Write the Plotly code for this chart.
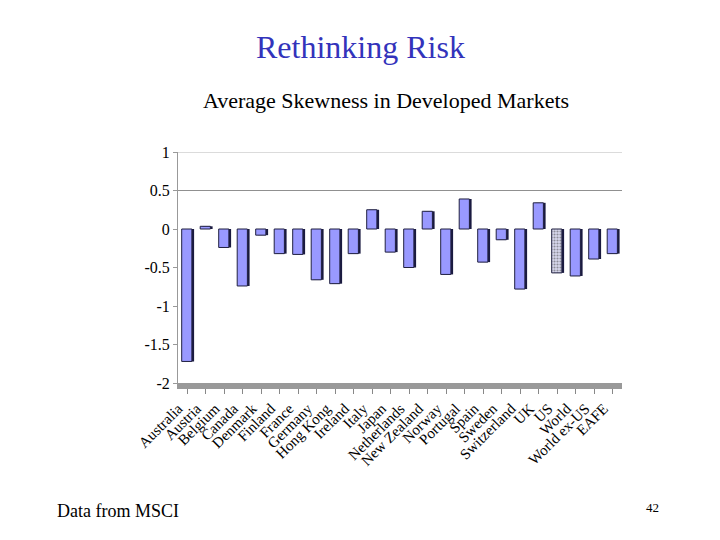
import plotly.graph_objects as go

markets = ['Australia', 'Austria', 'Belgium', 'Canada', 'Denmark', 'Finland', 'France',
           'Germany', 'Hong Kong', 'Ireland', 'Italy', 'Japan', 'Netherlands', 'New Zealand',
           'Norway', 'Portugal', 'Spain', 'Sweden', 'Switzerland', 'UK', 'US', 'World',
           'World ex-US', 'EAFE']
skewness = [-1.72, 0.035, -0.24, -0.74, -0.08, -0.32, -0.33, -0.66, -0.71, -0.32, 0.25, -0.30,
            -0.50, 0.23, -0.59, 0.39, -0.43, -0.14, -0.78, 0.34, -0.57, -0.61, -0.39, -0.32]
y_ticks = [1, 0.5, 0, -0.5, -1, -1.5, -2]

serif = 'Times New Roman, Liberation Serif, DejaVu Serif, serif'

# the page adds an 8px body margin, so aim everything 8px up/left
OFF = 8
FW, FH = 720, 540
# plot area in page pixels (left, right, top, bottom)
L, R, T, B = 178 - OFF, 622 - OFF, 152 - OFF, 383 - OFF
W, H = R - L, B - T


def pos(x, y):
    # page pixel -> paper coords
    return (x - OFF - L) / W, (B - (y - OFF)) / H


# US is drawn with a dotted fill like the original
patterns = ['.' if m == 'US' else '' for m in markets]
fills = ['#d8d8ee' if m == 'US' else '#9999ff' for m in markets]

fig = go.Figure()
# dark side face for a bit of 3D look
fig.add_trace(go.Bar(x=markets, y=skewness, width=0.55, offset=-0.18,
                     marker=dict(color='#1a1a40', line=dict(width=0)),
                     hoverinfo='skip', showlegend=False))
fig.add_trace(go.Bar(x=markets, y=skewness, width=0.55, offset=-0.3,
                     marker=dict(color=fills, line=dict(color='#202040', width=1),
                                 pattern=dict(shape=patterns, fgcolor='#7777aa',
                                              size=3, solidity=0.4)),
                     showlegend=False))

for g in [1, 0.5]:
    fig.add_shape(type='line', xref='x domain', x0=0, x1=1, yref='y', y0=g, y1=g,
                  line=dict(color='#b8b8b8' if g == 1 else '#909090', width=1), layer='below')

tx, ty = pos(360, 47)
dx, dy = pos(55, 511)
nx, ny = pos(652, 507)

fig.update_layout(
    width=FW, height=FH,
    margin=dict(l=L, r=FW - R, t=T, b=FH - B),
    paper_bgcolor='white', plot_bgcolor='white',
    barmode='overlay',
    font=dict(family=serif, color='black'),
    title=dict(text='Average Skewness in Developed Markets', x=(386 - OFF) / FW,
               xanchor='center', y=(FH - (100 - OFF)) / FH, yanchor='middle',
               font=dict(family=serif, size=22, color='black')),
    xaxis=dict(tickangle=-45, tickfont=dict(family=serif, size=15), showgrid=False,
               showline=True, linecolor='#999999', linewidth=6, ticks='outside',
               ticklen=5, tickcolor='#888888', automargin=False, ticklabelshift=-9),
    yaxis=dict(range=[-2, 1], tickvals=y_ticks, ticktext=[str(v) for v in y_ticks],
               tickfont=dict(family=serif, size=16), showgrid=False, zeroline=False,
               showline=True, linecolor='#999999', linewidth=1, ticks='outside',
               ticklen=4, tickcolor='#999999', automargin=False),
    annotations=[
        dict(text='Rethinking Risk', xref='paper', yref='paper', x=tx, y=ty,
             xanchor='center', yanchor='middle', showarrow=False,
             font=dict(family=serif, size=32, color='#3333bb')),
        dict(text='Data from MSCI', xref='paper', yref='paper', x=dx, y=dy,
             xanchor='left', yanchor='middle', showarrow=False,
             font=dict(family=serif, size=18, color='black')),
        dict(text='42', xref='paper', yref='paper', x=nx, y=ny,
             xanchor='center', yanchor='middle', showarrow=False,
             font=dict(family=serif, size=13, color='black')),
    ],
)

fig.write_html('out.html')
